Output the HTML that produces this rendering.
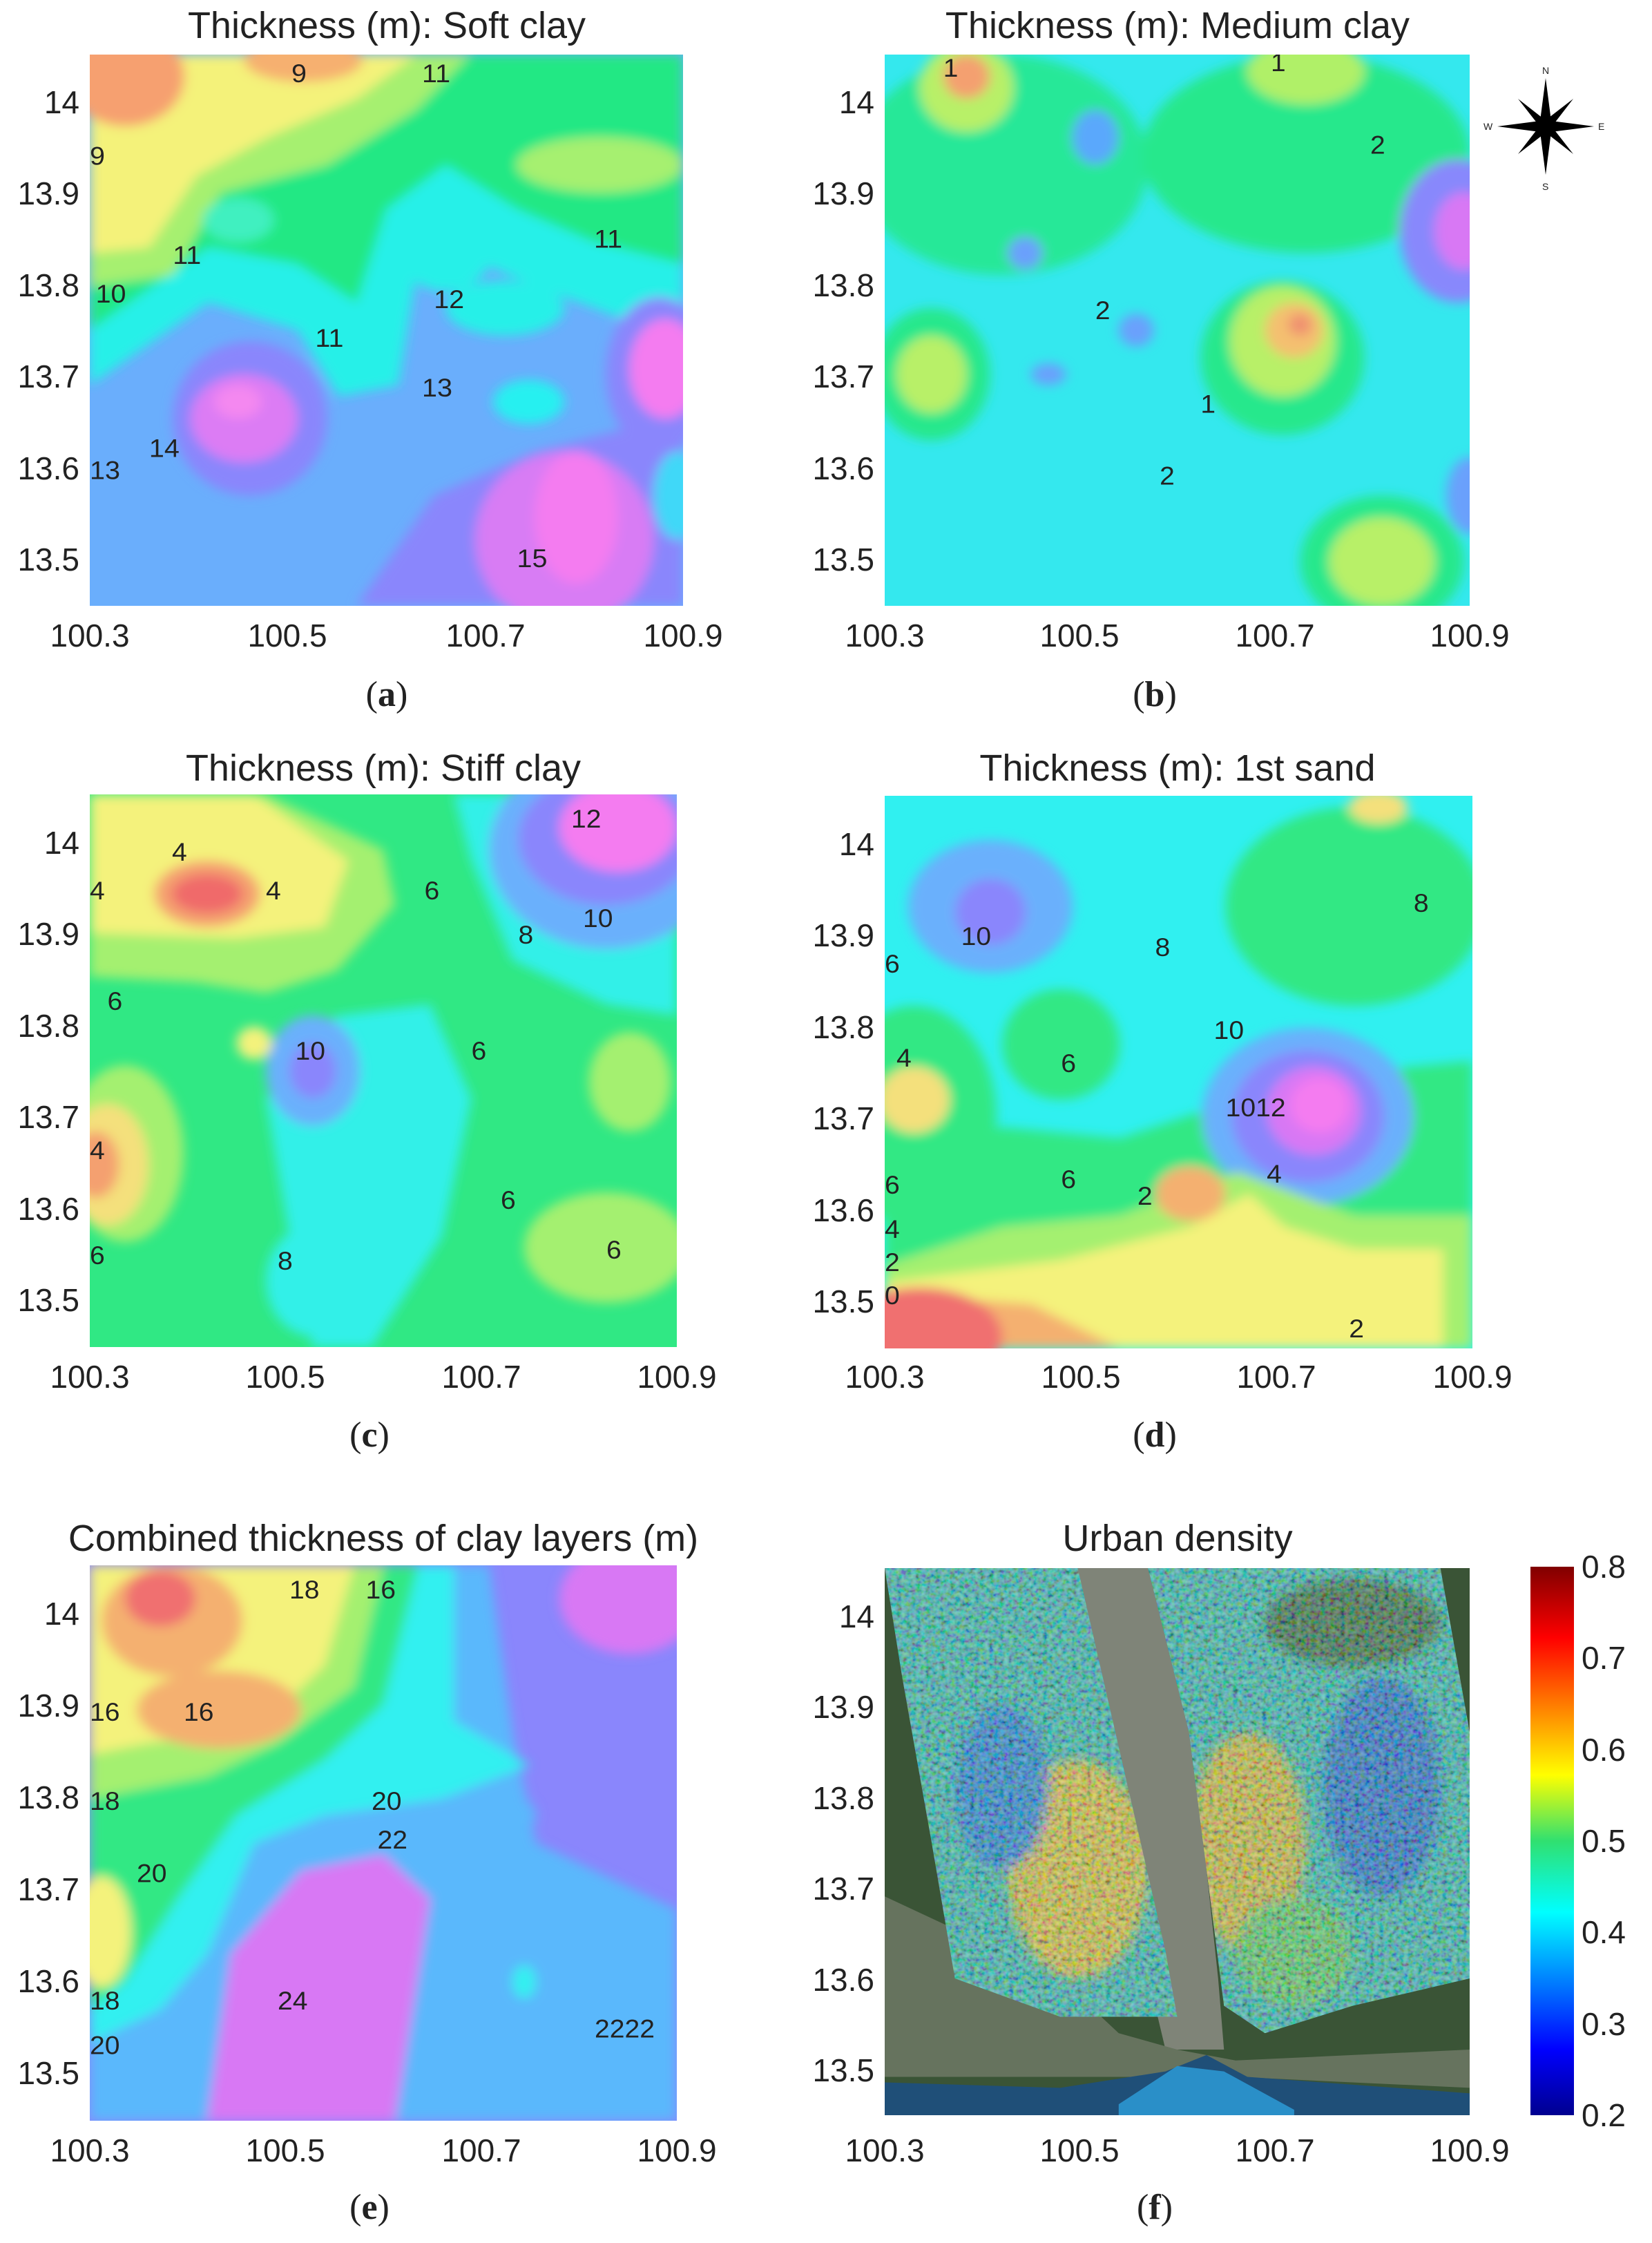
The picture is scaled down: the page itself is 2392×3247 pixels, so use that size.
<!DOCTYPE html>
<html><head><meta charset="utf-8">
<style>
html,body{margin:0;padding:0;background:#fff;}
svg text{font-family:"Liberation Sans",sans-serif;fill:#222;}
</style></head><body>
<svg width="2392" height="3242" viewBox="0 0 2392 3242" xmlns="http://www.w3.org/2000/svg">
<defs>
<filter id="b" x="-20%" y="-20%" width="140%" height="140%"><feGaussianBlur stdDeviation="1.0"/></filter>
<filter id="noise" x="0" y="0" width="100%" height="100%">
<feTurbulence type="fractalNoise" baseFrequency="1.2" numOctaves="2" seed="3"/>
<feColorMatrix type="matrix" values="2 0 0 0 -0.6  0 2 0 0 -0.5  0 0 2 0 -0.6  0 0 0 0 1"/>
</filter>
<clipPath id="urb"><path d="M0 0H33L48 70L50 82L30 82L12 75L8 50L3 20Z M45 0H95L100 30L100 75L80 80L65 85L58 80L55 55L52 30Z"/></clipPath>
<linearGradient id="jet" x1="0" y1="1" x2="0" y2="0">
<stop offset="0" stop-color="#00008f"/><stop offset="0.12" stop-color="#0000ff"/><stop offset="0.37" stop-color="#00ffff"/><stop offset="0.5" stop-color="#30e070"/><stop offset="0.62" stop-color="#ffff00"/><stop offset="0.87" stop-color="#ff0000"/><stop offset="1" stop-color="#800000"/>
</linearGradient>
</defs>

<!-- Panel a -->
<svg x="130" y="79" width="859" height="798" viewBox="0 0 100 100" preserveAspectRatio="none">
<rect width="100" height="100" fill="#6aaefc"/>
<g filter="url(#b)">
<path d="M0 0H100V50L90 48L75 42L62 36L55 40L52 60L42 62L35 50L20 45L0 60Z" fill="#28f0e8"/>
<path d="M0 0H100V38L85 34L72 28L60 20L50 28L45 45L35 38L20 35L0 50Z" fill="#22e884"/>
<path d="M0 0H64L55 10L40 20L22 25L14 40L0 42Z" fill="#a6f070"/>
<path d="M0 0H55L45 8L30 15L18 22L10 35L0 36Z" fill="#f4f27a"/>
<ellipse cx="6" cy="4" rx="10" ry="9" fill="#f6a070"/>
<ellipse cx="36" cy="1" rx="10" ry="4" fill="#f6b070"/>
<ellipse cx="86" cy="20" rx="14" ry="5" fill="#a6f070"/>
<ellipse cx="60" cy="35" rx="8" ry="8" fill="#28f0e8"/>
<ellipse cx="70" cy="46" rx="10" ry="5" fill="#28f0e8"/>
<ellipse cx="25" cy="30" rx="6" ry="4" fill="#40f0c0"/>
<ellipse cx="27" cy="66" rx="13" ry="14" fill="#8a86fc"/>
<ellipse cx="26" cy="66" rx="9" ry="8" fill="#dc7cf4"/>
<ellipse cx="25" cy="63" rx="4" ry="3" fill="#f488f0"/>
<path d="M45 100L58 80L75 72L90 68L100 62V100Z" fill="#8a86fc"/>
<ellipse cx="80" cy="88" rx="15" ry="16" fill="#d87cf4"/>
<ellipse cx="82" cy="84" rx="7" ry="12" fill="#f47cf0"/>
<ellipse cx="96" cy="58" rx="9" ry="14" fill="#8a86fc"/>
<ellipse cx="97" cy="57" rx="6" ry="9" fill="#f47cf0"/>
<ellipse cx="99" cy="80" rx="4" ry="8" fill="#40d8f8"/>
<ellipse cx="74" cy="63" rx="6" ry="4" fill="#28f0f0"/>
</g>
<g font-size="4.6" fill="#222" font-family="Liberation Sans">
<text x="14" y="38">11</text><text x="1" y="45">10</text><text x="38" y="53">11</text>
<text x="56" y="62">13</text><text x="10" y="73">14</text><text x="72" y="93">15</text>
<text x="85" y="35">11</text><text x="58" y="46">12</text><text x="0" y="77">13</text>
<text x="56" y="5">11</text><text x="34" y="5">9</text><text x="0" y="20">9</text>
</g>
</svg>

<!-- Panel b -->
<svg x="1281" y="79" width="847" height="798" viewBox="0 0 100 100" preserveAspectRatio="none">
<rect width="100" height="100" fill="#34e8ee"/>
<g filter="url(#b)">
<ellipse cx="20" cy="20" rx="25" ry="20" fill="#28e898"/>
<ellipse cx="72" cy="18" rx="28" ry="18" fill="#28e88c"/>
<ellipse cx="14" cy="6" rx="8" ry="8" fill="#b8f068"/>
<ellipse cx="14" cy="4" rx="4" ry="4" fill="#f4a070"/>
<ellipse cx="72" cy="3" rx="10" ry="6" fill="#b0f068"/>
<ellipse cx="8" cy="58" rx="10" ry="12" fill="#28e88c"/>
<ellipse cx="8" cy="58" rx="6" ry="7" fill="#b8f068"/>
<ellipse cx="68" cy="55" rx="14" ry="14" fill="#28e88c"/>
<ellipse cx="68" cy="52" rx="9" ry="10" fill="#b8f068"/>
<ellipse cx="70" cy="50" rx="5" ry="5" fill="#f4c070"/>
<ellipse cx="71" cy="49" rx="2" ry="2" fill="#f09070"/>
<ellipse cx="85" cy="92" rx="14" ry="12" fill="#28e88c"/>
<ellipse cx="85" cy="92" rx="9" ry="8" fill="#b8f068"/>
<ellipse cx="98" cy="32" rx="10" ry="13" fill="#8888fc"/>
<ellipse cx="99" cy="32" rx="5" ry="7" fill="#d878f4"/>
<ellipse cx="36" cy="15" rx="4" ry="5" fill="#5aa8fc"/>
<ellipse cx="24" cy="36" rx="3" ry="3" fill="#6aa0fc"/>
<ellipse cx="43" cy="50" rx="3" ry="3" fill="#6aa0fc"/>
<ellipse cx="28" cy="58" rx="3" ry="2" fill="#6aa0fc"/>
<ellipse cx="100" cy="80" rx="4" ry="7" fill="#6aa0fc"/>
<ellipse cx="48" cy="20" rx="4" ry="4" fill="#28e88c"/>
</g>
<g font-size="4.6" font-family="Liberation Sans">
<text x="83" y="18">2</text><text x="36" y="48">2</text><text x="54" y="65">1</text><text x="47" y="78">2</text><text x="10" y="4">1</text><text x="66" y="3">1</text>
</g>
</svg>

<!-- Panel c -->
<svg x="130" y="1150" width="850" height="800" viewBox="0 0 100 100" preserveAspectRatio="none">
<rect width="100" height="100" fill="#30e884"/>
<g filter="url(#b)">
<path d="M0 0H30L50 10L52 20L42 32L30 36L18 34L0 33Z" fill="#a4f070"/>
<path d="M0 0H28L44 12L40 24L25 26L0 25Z" fill="#f4f27c"/>
<ellipse cx="20" cy="18" rx="9" ry="6" fill="#f4a070"/>
<ellipse cx="20" cy="18" rx="6" ry="3.5" fill="#f06a6a"/>
<ellipse cx="6" cy="65" rx="10" ry="16" fill="#a4f070"/>
<ellipse cx="3" cy="67" rx="7" ry="11" fill="#f4e07c"/>
<ellipse cx="1" cy="67" rx="4" ry="6" fill="#f4a070"/>
<path d="M30 55L42 40L58 38L65 55L60 80L48 100H38L34 80Z" fill="#30f0e8"/>
<ellipse cx="38" cy="88" rx="8" ry="10" fill="#30f0e8"/>
<ellipse cx="38" cy="50" rx="8" ry="10" fill="#6ab0fc"/>
<ellipse cx="38" cy="50" rx="4" ry="5" fill="#8a86fc"/>
<path d="M62 0H100V40L88 38L72 30L65 12Z" fill="#30f0e8"/>
<ellipse cx="88" cy="10" rx="20" ry="18" fill="#6ab0fc"/>
<ellipse cx="88" cy="8" rx="15" ry="12" fill="#8a86fc"/>
<ellipse cx="90" cy="6" rx="10" ry="8" fill="#f47cf0"/>
<ellipse cx="88" cy="82" rx="14" ry="10" fill="#a4f070"/>
<ellipse cx="92" cy="52" rx="7" ry="9" fill="#a4f070"/>
<ellipse cx="28" cy="45" rx="3" ry="3" fill="#f4f27c"/>
</g>
<g font-size="4.6" font-family="Liberation Sans">
<text x="14" y="12">4</text><text x="0" y="19">4</text><text x="30" y="19">4</text><text x="57" y="19">6</text>
<text x="73" y="27">8</text><text x="84" y="24">10</text><text x="82" y="6">12</text><text x="35" y="48">10</text>
<text x="3" y="39">6</text><text x="0" y="66">4</text><text x="0" y="85">6</text><text x="32" y="86">8</text>
<text x="70" y="75">6</text><text x="88" y="84">6</text><text x="65" y="48">6</text>
</g>
</svg>

<!-- Panel d -->
<svg x="1281" y="1152" width="851" height="800" viewBox="0 0 100 100" preserveAspectRatio="none">
<rect width="100" height="100" fill="#30f0f0"/>
<g filter="url(#b)">
<ellipse cx="80" cy="20" rx="22" ry="18" fill="#30e884"/>
<ellipse cx="18" cy="20" rx="14" ry="12" fill="#6ab0fc"/>
<ellipse cx="18" cy="21" rx="6" ry="6" fill="#8a86fc"/>
<ellipse cx="5" cy="58" rx="14" ry="20" fill="#30e884"/>
<ellipse cx="30" cy="45" rx="10" ry="10" fill="#30e884"/>
<path d="M0 65L20 60L40 62L60 55L80 50L100 48V85H0Z" fill="#30e884"/>
<ellipse cx="5" cy="55" rx="6" ry="6" fill="#f4e07c"/>
<ellipse cx="72" cy="58" rx="18" ry="16" fill="#6ab0fc"/>
<ellipse cx="72" cy="58" rx="13" ry="12" fill="#8a86fc"/>
<ellipse cx="73" cy="57" rx="8" ry="8" fill="#d878f4"/>
<ellipse cx="74" cy="56" rx="5" ry="5" fill="#f47cf0"/>
<path d="M0 85L20 78L40 76L50 72L60 68L70 72L80 76L100 76V100H0Z" fill="#a4f070"/>
<path d="M0 88L30 84L52 78L62 72L68 78L80 82L95 82V100H0Z" fill="#f4f27c"/>
<ellipse cx="52" cy="72" rx="6" ry="5" fill="#f4b070"/>
<path d="M0 90L25 92L40 100H0Z" fill="#f4b070"/>
<ellipse cx="6" cy="98" rx="14" ry="9" fill="#f07070"/>
<ellipse cx="84" cy="2" rx="5" ry="3" fill="#f4e07c"/>
</g>
<g font-size="4.6" font-family="Liberation Sans">
<text x="13" y="27">10</text><text x="46" y="29">8</text><text x="90" y="21">8</text><text x="56" y="44">10</text>
<text x="58" y="58">1012</text><text x="0" y="32">6</text><text x="2" y="49">4</text><text x="30" y="50">6</text>
<text x="65" y="70">4</text><text x="0" y="72">6</text><text x="0" y="80">4</text><text x="0" y="86">2</text><text x="0" y="92">0</text>
<text x="43" y="74">2</text><text x="30" y="71">6</text><text x="79" y="98">2</text>
</g>
</svg>

<!-- Panel e -->
<svg x="130" y="2266" width="850" height="804" viewBox="0 0 100 100" preserveAspectRatio="none">
<rect width="100" height="100" fill="#8a86fc"/>
<g filter="url(#b)">
<path d="M0 0H68L72 30L76 50L100 62V100H0Z" fill="#5ab8fc"/>
<path d="M0 0H62L62 28L75 36L60 42L40 45L28 50L20 70L12 80L0 86Z" fill="#30f0f0"/>
<path d="M0 0H56L50 25L40 35L25 45L15 60L6 75L0 80Z" fill="#30e884"/>
<path d="M0 0H50L45 22L32 32L20 38L0 42Z" fill="#a4f070"/>
<path d="M0 0H45L40 18L28 30L10 32L0 34Z" fill="#f4f27c"/>
<ellipse cx="14" cy="10" rx="12" ry="10" fill="#f4b070"/>
<ellipse cx="22" cy="26" rx="14" ry="7" fill="#f4b070"/>
<ellipse cx="12" cy="6" rx="6" ry="5" fill="#f07070"/>
<ellipse cx="2" cy="66" rx="5" ry="10" fill="#f4f27c"/>
<path d="M20 100L24 70L36 55L50 52L58 60L55 80L52 100Z" fill="#d878f4"/>
<ellipse cx="92" cy="6" rx="12" ry="10" fill="#d878f4"/>
<ellipse cx="74" cy="75" rx="2" ry="3" fill="#30f0f0"/>
<ellipse cx="73" cy="45" rx="3" ry="3" fill="#5ab8fc"/>
</g>
<g font-size="4.6" font-family="Liberation Sans">
<text x="34" y="6">18</text><text x="47" y="6">16</text><text x="16" y="28">16</text><text x="0" y="28">16</text>
<text x="0" y="44">18</text><text x="48" y="44">20</text><text x="49" y="51">22</text><text x="8" y="57">20</text>
<text x="0" y="80">18</text><text x="0" y="88">20</text><text x="32" y="80">24</text><text x="86" y="85">2222</text>
</g>
</svg>

<!-- Panel f -->
<svg x="1281" y="2270" width="847" height="792" viewBox="0 0 100 100" preserveAspectRatio="none">
<rect width="100" height="100" fill="#3a5436"/>
<path d="M33 0H45L52 30L55 55L57 75L58 88H48L44 70L40 45L36 20Z" fill="#7f8478"/>
<path d="M0 60L30 75L40 85L50 88L60 90L100 88V95L60 93L0 93Z" fill="#66735e"/>
<path d="M0 94L30 95L48 92L55 89L62 93L100 96V100H0Z" fill="#1f4f78"/>
<path d="M40 98L50 91L58 92L70 99V100H40Z" fill="#2a8fc8"/>
<g clip-path="url(#urb)">
<rect width="100" height="100" fill="#3cb0b0"/>
<g filter="url(#b)">
<ellipse cx="33" cy="55" rx="12" ry="20" fill="#d0b848"/>
<ellipse cx="62" cy="50" rx="10" ry="20" fill="#c8b448"/>
<ellipse cx="20" cy="40" rx="8" ry="15" fill="#2a80d0"/>
<ellipse cx="85" cy="40" rx="10" ry="20" fill="#2a70c8"/>
<ellipse cx="70" cy="70" rx="10" ry="10" fill="#60c070"/>
<ellipse cx="80" cy="10" rx="15" ry="8" fill="#3a6a50"/>
</g>
<rect width="100" height="100" filter="url(#noise)" opacity="0.35"/>
</g>
</svg>

<!-- colorbar -->
<rect x="2216" y="2268" width="63" height="794" fill="url(#jet)"/>
<g font-size="46">
<text x="2290" y="2284">0.8</text><text x="2290" y="2416">0.7</text><text x="2290" y="2549">0.6</text>
<text x="2290" y="2681">0.5</text><text x="2290" y="2813">0.4</text><text x="2290" y="2946">0.3</text><text x="2290" y="3078">0.2</text>
</g>

<!-- compass -->
<g transform="translate(2238,183)">
<polygon points="0,-70 8,-8 0,0 -8,-8" fill="#000"/>
<polygon points="0,70 8,8 0,0 -8,8" fill="#000"/>
<polygon points="-70,0 -8,-8 0,0 -8,8" fill="#000"/>
<polygon points="70,0 8,-8 0,0 8,8" fill="#000"/>
<polygon points="-40,-40 -4,6 6,-4" fill="#000"/><polygon points="40,40 4,-6 -6,4" fill="#000"/>
<polygon points="40,-40 -4,-6 6,4" fill="#000"/><polygon points="-40,40 4,6 -6,-4" fill="#000"/>
<text x="-5" y="-76" font-size="14" font-family="Liberation Serif">N</text>
<text x="-5" y="92" font-size="14" font-family="Liberation Serif">S</text>
<text x="-90" y="5" font-size="14" font-family="Liberation Serif">W</text>
<text x="76" y="5" font-size="14" font-family="Liberation Serif">E</text>
</g>

<!-- Titles -->
<g font-size="54" text-anchor="middle">
<text x="560" y="55">Thickness (m): Soft clay</text>
<text x="1705" y="55">Thickness (m): Medium clay</text>
<text x="555" y="1130">Thickness (m): Stiff clay</text>
<text x="1705" y="1130">Thickness (m): 1st sand</text>
<text x="555" y="2245">Combined thickness of clay layers (m)</text>
<text x="1705" y="2245">Urban density</text>
</g>

<!-- tick labels -->
<g font-size="46" text-anchor="middle" fill="#333">
<text x="130" y="936">100.3</text><text x="416" y="936">100.5</text><text x="703" y="936">100.7</text><text x="989" y="936">100.9</text>
<text x="1281" y="936">100.3</text><text x="1563" y="936">100.5</text><text x="1846" y="936">100.7</text><text x="2128" y="936">100.9</text>
<text x="130" y="2009">100.3</text><text x="413" y="2009">100.5</text><text x="697" y="2009">100.7</text><text x="980" y="2009">100.9</text>
<text x="1281" y="2009">100.3</text><text x="1565" y="2009">100.5</text><text x="1848" y="2009">100.7</text><text x="2132" y="2009">100.9</text>
<text x="130" y="3129">100.3</text><text x="413" y="3129">100.5</text><text x="697" y="3129">100.7</text><text x="980" y="3129">100.9</text>
<text x="1281" y="3129">100.3</text><text x="1563" y="3129">100.5</text><text x="1846" y="3129">100.7</text><text x="2128" y="3129">100.9</text>
</g>
<g font-size="46" text-anchor="end" fill="#333">
<text x="115" y="164">14</text><text x="115" y="296">13.9</text><text x="115" y="429">13.8</text><text x="115" y="561">13.7</text><text x="115" y="694">13.6</text><text x="115" y="826">13.5</text>
<text x="1266" y="164">14</text><text x="1266" y="296">13.9</text><text x="1266" y="429">13.8</text><text x="1266" y="561">13.7</text><text x="1266" y="694">13.6</text><text x="1266" y="826">13.5</text>
<text x="115" y="1236">14</text><text x="115" y="1368">13.9</text><text x="115" y="1501">13.8</text><text x="115" y="1633">13.7</text><text x="115" y="1766">13.6</text><text x="115" y="1898">13.5</text>
<text x="1266" y="1238">14</text><text x="1266" y="1370">13.9</text><text x="1266" y="1503">13.8</text><text x="1266" y="1635">13.7</text><text x="1266" y="1768">13.6</text><text x="1266" y="1900">13.5</text>
<text x="115" y="2352">14</text><text x="115" y="2485">13.9</text><text x="115" y="2618">13.8</text><text x="115" y="2751">13.7</text><text x="115" y="2884">13.6</text><text x="115" y="3017">13.5</text>
<text x="1266" y="2356">14</text><text x="1266" y="2487">13.9</text><text x="1266" y="2619">13.8</text><text x="1266" y="2750">13.7</text><text x="1266" y="2882">13.6</text><text x="1266" y="3013">13.5</text>
</g>

<!-- panel letters -->
<g font-size="52" text-anchor="middle">
<text x="560" y="1022" style="font-family:'Liberation Serif',serif">(<tspan font-weight="bold">a</tspan>)</text>
<text x="1672" y="1022" style="font-family:'Liberation Serif',serif">(<tspan font-weight="bold">b</tspan>)</text>
<text x="535" y="2094" style="font-family:'Liberation Serif',serif">(<tspan font-weight="bold">c</tspan>)</text>
<text x="1672" y="2094" style="font-family:'Liberation Serif',serif">(<tspan font-weight="bold">d</tspan>)</text>
<text x="535" y="3212" style="font-family:'Liberation Serif',serif">(<tspan font-weight="bold">e</tspan>)</text>
<text x="1672" y="3212" style="font-family:'Liberation Serif',serif">(<tspan font-weight="bold">f</tspan>)</text>
</g>
</svg>
</body></html>
